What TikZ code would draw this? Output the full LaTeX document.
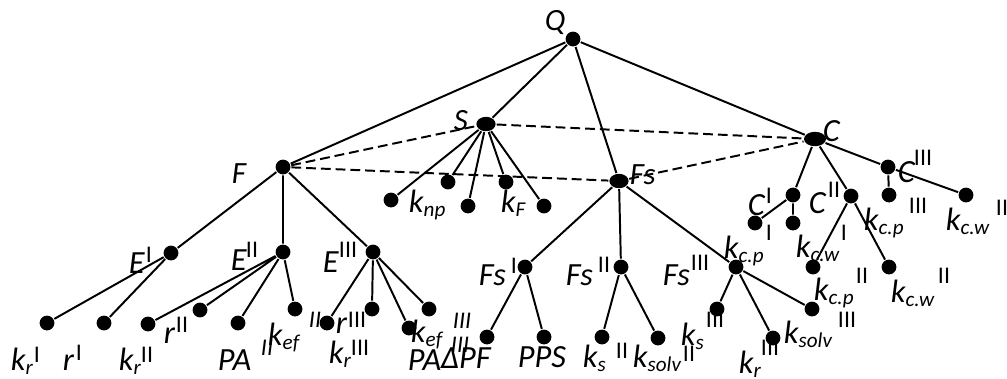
\documentclass[tikz,border=0pt]{standalone}
\usepackage{fontspec}
\setmainfont{Carlito}
\usetikzlibrary{shapes.geometric}
\newcommand{\lw}[1]{\raisebox{-3pt}{\fontsize{15}{15}\selectfont #1}}

\begin{document}
\begin{tikzpicture}[x=0.025cm, y=-0.025cm, line width=1.4pt,
    dot/.style={circle, fill, inner sep=0pt, minimum size=0.37cm},
    bigdot/.style={ellipse, fill, inner sep=0pt, minimum width=0.48cm, minimum height=0.36cm},
    lab/.style={anchor=base west, inner sep=0pt, font=\fontsize{23}{23}\selectfont\itshape},
    toplab/.style={anchor=base west, inner sep=0pt, font=\fontsize{22}{22}\selectfont\itshape},
    sup/.style={anchor=base west, inner sep=0pt, font=\fontsize{17}{17}\selectfont},
    isup/.style={anchor=base west, inner sep=0pt, font=\fontsize{17}{17}\selectfont\itshape},
    link/.style={line width=1.4pt, dash pattern=on 7pt off 3.5pt}]
    \useasboundingbox (0,0) rectangle (1007,378);

    \node[dot] (Q) at (573,39) {};
    \node[bigdot] (S) at (486,124) {};
    \node[dot] (F) at (283,167) {};
    \node[bigdot] (Fs) at (619,181) {};
    \node[bigdot, minimum width=0.55cm] (C) at (815,139) {};

    \node[dot] (S1) at (391,200) {};
    \node[dot] (S2) at (448,182) {};
    \node[dot] (S3) at (468,206) {};
    \node[dot] (S4) at (506,182) {};
    \node[dot] (S5) at (544,206) {};

    \node[dot] (E1) at (171,253) {};
    \node[dot] (E2) at (283,252) {};
    \node[dot] (E3) at (373,252) {};
    \node[dot] (E1a) at (47,323) {};
    \node[dot] (E1b) at (104,323) {};
    \node[dot] (E2a) at (148,324) {};
    \node[dot] (E2b) at (200,310) {};
    \node[dot] (E2c) at (238,323) {};
    \node[dot] (E2d) at (295,309) {};
    \node[dot] (E3a) at (327,323) {};
    \node[dot] (E3b) at (372,309) {};
    \node[dot] (E3c) at (409,328) {};
    \node[dot] (E3d) at (429,309) {};

    \node[dot] (Fs1) at (525,267) {};
    \node[dot] (Fs2) at (621,267) {};
    \node[dot] (Fs3) at (736,267) {};
    \node[dot] (Fs1a) at (487,337) {};
    \node[dot] (Fs1b) at (544,337) {};
    \node[dot] (Fs2a) at (602,337) {};
    \node[dot] (Fs2b) at (658,338) {};
    \node[dot] (Fs3a) at (717,309) {};
    \node[dot] (Fs3b) at (773,338) {};
    \node[dot] (Fs3c) at (812,309) {};

    \node[dot] (C1) at (793,195) {};
    \node[dot] (C2) at (851,196) {};
    \node[dot] (C3) at (888,167) {};
    \node[dot] (C1a) at (755,223) {};
    \node[dot] (C1b) at (793,223) {};
    \node[dot] (C2a) at (813,267) {};
    \node[dot] (C2b) at (889,267) {};
    \node[dot] (C3a) at (889,195) {};
    \node[dot] (C3b) at (966,195) {};

    \draw (Q) -- (F) (Q) -- (S) (Q) -- (Fs) (Q) -- (C);
    \draw (S) -- (S1) (S) -- (S2) (S) -- (S3) (S) -- (S4) (S) -- (S5);
    \draw (F) -- (E1) (F) -- (E2) (F) -- (E3);
    \draw (E1) -- (E1a) (E1) -- (E1b);
    \draw (E2) -- (E2a) (E2) -- (E2b) (E2) -- (E2c) (E2) -- (E2d);
    \draw (E3) -- (E3a) (E3) -- (E3b) (E3) -- (E3c) (E3) -- (E3d);
    \draw (Fs) -- (Fs1) (Fs) -- (Fs2) (Fs) -- (Fs3);
    \draw (Fs1) -- (Fs1a) (Fs1) -- (Fs1b) (Fs2) -- (Fs2a) (Fs2) -- (Fs2b);
    \draw (Fs3) -- (Fs3a) (Fs3) -- (Fs3b) (Fs3) -- (Fs3c);
    \draw (C) -- (C1) (C) -- (C2) (C) -- (C3);
    \draw (C1) -- (C1a) (C1) -- (C1b) (C2) -- (C2a) (C2) -- (C2b);
    \draw (C3) -- (C3a) (C3) -- (C3b);

    \draw[link] (F) -- (S);
    \draw[link] (F) -- (Fs);
    \draw[link] (S) -- (C);
    \draw[link] (Fs) -- (C);

    \node[toplab] (tQ) at (544,30) {Q};
    \node[toplab] (tS) at (453,130) {S};
    \node[toplab] (tF) at (231,183) {F};
    \node[toplab] (tFs) at (629,184) {Fs};
    \node[lab] (tC) at (822,141) {C};
    \node[lab] (tknp) at (408,212) {k\lw{np}};
    \node[lab] (tkF) at (500,212) {k\lw{F}};

    \node[lab] (tE1) at (128,273) {E};
    \node[sup] (uE1) at (145,262) {I};
    \node[lab] (tE2) at (230,270) {E};
    \node[sup] (uE2) at (245,257) {II};
    \node[lab] (tE3) at (322,272) {E};
    \node[sup] (uE3) at (338,257) {III};

    \node[lab] (tkr1) at (10,370) {k\lw{r}};
    \node[sup] (ukr1) at (33,362) {I};
    \node[lab] (tr1) at (62,370) {r};
    \node[sup] (ur1) at (75,360) {I};
    \node[lab] (tkr2) at (118,370) {k\lw{r}};
    \node[sup] (ukr2) at (140,362) {II};
    \node[lab] (tr2) at (163,343) {r};
    \node[sup] (ur2) at (175,332) {II};
    \node[lab] (tPA2) at (217,370) {PA};
    \node[isup] (uPA2) at (260,355) {II};
    \node[lab] (tkef2) at (267,345) {k\lw{ef}};
    \node[isup] (ukef2) at (308,327) {II};
    \node[lab] (tr3) at (335,333) {r};
    \node[sup] (ur3) at (347,327) {III};
    \node[lab] (tkr3) at (328,363) {k\lw{r}};
    \node[sup] (ukr3) at (350,355) {III};
    \node[lab] (tkef3) at (410,342) {k\lw{ef}};
    \node[isup] (ukef3) at (452,328) {III};
    \node[lab] (tPA3) at (407,370) {PA};
    \node[isup] (uPA3) at (450,352) {III};

    \node[lab] (tFs1) at (478,285) {Fs};
    \node[sup] (uFs1) at (510,273) {I};
    \node[lab] (tFs2) at (565,285) {Fs};
    \node[sup] (uFs2) at (597,272) {II};
    \node[lab] (tFs3) at (662,285) {Fs};
    \node[sup] (uFs3) at (690,270) {III};
    \node[lab] (tdPF) at (440,368) {ΔPF};
    \node[lab] (tPPS) at (517,367) {PPS};
    \node[lab] (tks2) at (582,367) {k\lw{s}};
    \node[sup] (uks2) at (615,358) {II};
    \node[lab] (tksolv2) at (632,367) {k\lw{solv}};
    \node[sup] (uksolv2) at (682,361) {II};
    \node[lab] (tkcp) at (723,258) {k\lw{c.p}};
    \node[lab] (tks3) at (680,345) {k\lw{s}};
    \node[sup] (uks3) at (705,327) {III};
    \node[lab] (tkr4) at (738,373) {k\lw{r}};
    \node[sup] (ukr4) at (760,355) {III};
    \node[lab] (tksolv3) at (783,343) {k\lw{solv}};
    \node[sup] (uksolv3) at (837,327) {III};

    \node[lab] (tC1) at (747,215) {C};
    \node[sup] (uC1) at (765,203) {I};
    \node[sup] (uC1b) at (765,240) {I};
    \node[lab] (tC2) at (808,213) {C};
    \node[sup] (uC2) at (827,197) {II};
    \node[lab] (tC3) at (897,182) {C};
    \node[sup] (uC3) at (913,165) {III};
    \node[lab] (tkcw1) at (795,257) {k\lw{c.w}};
    \node[sup] (ukcw1) at (840,240) {I};
    \node[lab] (tkcp3) at (863,230) {k\lw{c.p}};
    \node[sup] (ukcp3) at (908,213) {III};
    \node[lab] (tkcw3) at (945,230) {k\lw{c.w}};
    \node[sup] (ukcw3) at (995,215) {III};
    \node[lab] (tkcp2) at (813,300) {k\lw{c.p}};
    \node[sup] (ukcp2) at (855,283) {II};
    \node[lab] (tkcw2) at (890,302) {k\lw{c.w}};
    \node[sup] (ukcw2) at (937,283) {II};
\end{tikzpicture}
\end{document}
